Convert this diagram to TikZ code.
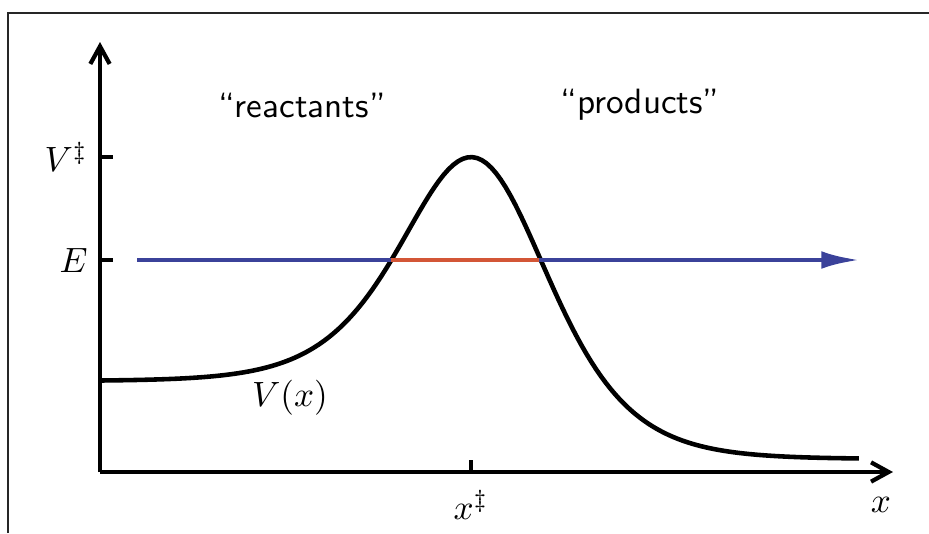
\documentclass[tikz,border=0pt]{standalone}
\usepackage{amsmath}
\usetikzlibrary{arrows.meta}
\definecolor{fluxblue}{RGB}{59,66,154}
\definecolor{tunnelred}{RGB}{211,86,54}
\tikzset{
  axis/.style={line width=1.2pt,-{Straight Barb[length=5pt,width=5.5pt,line width=1.2pt]}},
  tick/.style={line width=1.2pt},
  barrier/.style={line width=1.3pt},
  lbl/.style={font=\sffamily}
}
\begin{document}
\begin{tikzpicture}
  \useasboundingbox (0,0) rectangle (9.29,5.33);
  % frame
  \draw[line width=0.35pt,black!85] (0.08,0) -- (0.08,5.20) -- (9.29,5.20);
  % axes
  \coordinate (O) at (1.00,0.61);
  \coordinate (ytip) at (1.00,4.91);
  \coordinate (xtip) at (8.93,0.61);
  \draw[axis] (O) -- (ytip);
  \draw[axis] (O) -- (xtip);
  % ticks
  \coordinate (vb) at (1.00,3.76);
  \coordinate (en) at (1.00,2.73);
  \coordinate (xb) at (4.71,0.61);
  \draw[tick] (vb) -- ++(0.13,0);
  \draw[tick] (en) -- ++(0.13,0);
  \draw[tick] (xb) -- ++(0,0.12);
  \node[left] (vblab) at (vb) {$V^\ddagger$};
  \node[left] (enlab) at (en) {$E$};
  \node (xblab) at (4.71,0.28) {$x^\ddagger$};
  \node (xlab) at (8.81,0.28) {$x$};
  % potential (Eckart-like barrier)
  \draw[barrier] plot[domain=1.00:8.59,samples=160]
    (\x,{0.74 + 0.39*(1-tanh(\x-4.785)) + 2.615/(cosh(\x-4.785))^2});
  \node (vlab) at (2.90,1.35) {$V(x)$};
  % energy line
  \coordinate (estart) at (1.37,2.73);
  \coordinate (eend) at (8.60,2.73);
  \coordinate (tl) at (3.91,2.73);
  \coordinate (tr) at (5.39,2.73);
  \draw[fluxblue,line width=1.4pt,-{Latex[length=11pt,width=5pt]}] (estart) -- (eend);
  \draw[tunnelred,line width=1.4pt] (tl) -- (tr);
  \node[lbl] (react) at (3.02,4.28) {``reactants''};
  \node[lbl] (prod) at (6.40,4.28) {``products''};
\end{tikzpicture}
\end{document}
